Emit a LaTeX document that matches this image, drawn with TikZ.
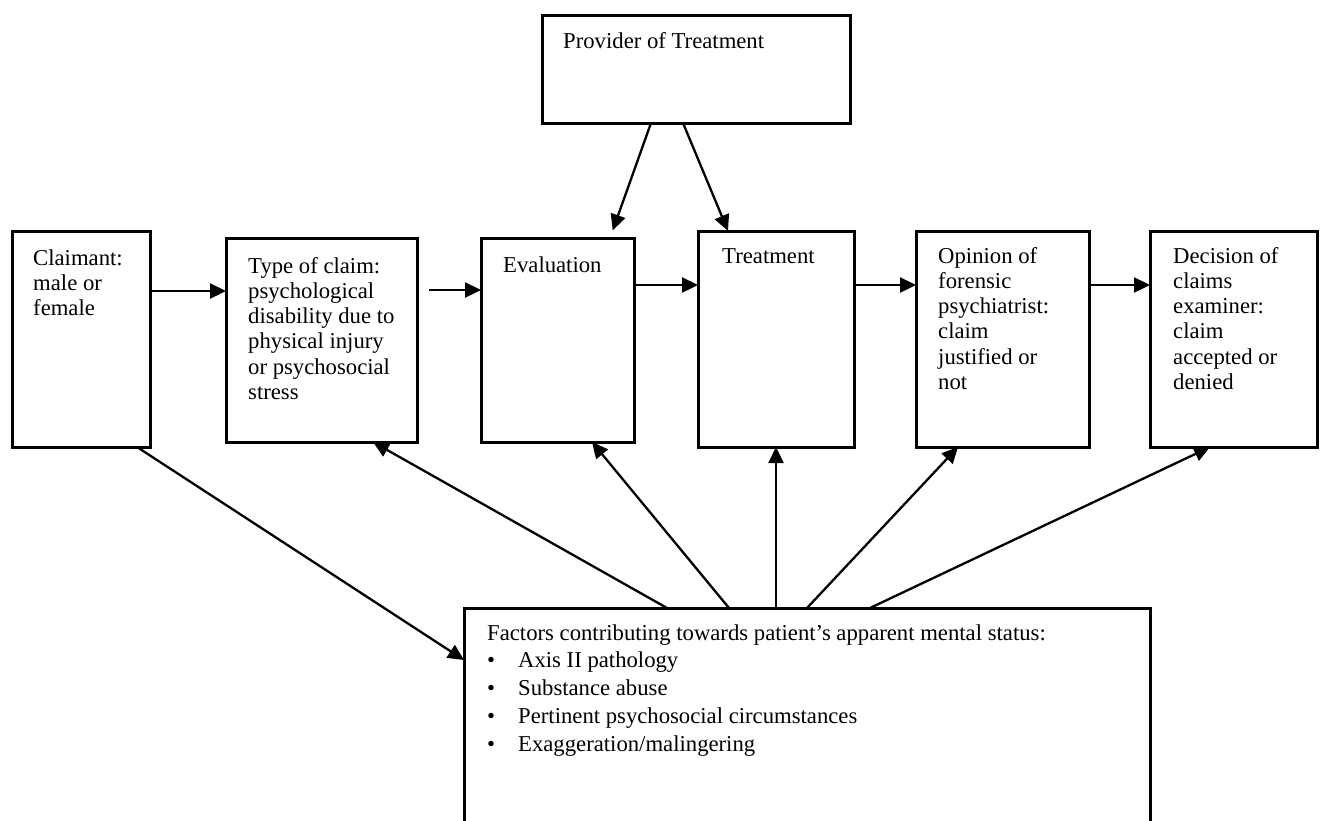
\documentclass[tikz,border=0pt]{standalone}
\usepackage{fontspec}
\setmainfont{Liberation Serif}
\usetikzlibrary{arrows.meta}
\newcommand{\mlines}[1]{\begin{tabular}[t]{@{}l@{}}#1\end{tabular}}
\newcommand{\bitem}[1]{\makebox[31pt][l]{\textbullet}#1}
\begin{document}
\begin{tikzpicture}[x=1pt,y=-1pt,
  box/.style={draw, line width=3pt, rectangle, inner sep=0pt, outer sep=0pt},
  txt/.style={anchor=base west, inner sep=0pt, font=\fontsize{22.7}{25.3}\selectfont},
  ftxt/.style={anchor=base west, inner sep=0pt, font=\fontsize{22.7}{27.8}\selectfont},
  arr/.style={line width=2.3pt, -{Triangle[length=16pt,width=15pt]}}]
\useasboundingbox (0,0) rectangle (1321,820);
\clip (0,0) rectangle (1321,820);
% boxes
\node[box, minimum width=308pt, minimum height=108pt] (prov) at (696,69) {};
\node[box, minimum width=138pt, minimum height=216pt] (claim) at (81,339) {};
\node[box, minimum width=191pt, minimum height=204pt] (type) at (321.5,340) {};
\node[box, minimum width=153pt, minimum height=204pt] (eval) at (557.5,340) {};
\node[box, minimum width=156pt, minimum height=216pt] (treat) at (776,339) {};
\node[box, minimum width=173pt, minimum height=216pt] (opin) at (1002.5,339) {};
\node[box, minimum width=167pt, minimum height=216pt] (dec) at (1233.5,339) {};
\node[box, minimum width=686pt, minimum height=232pt] (fact) at (807,724) {};
% texts
\node[txt] (tprov) at (563,48) {Provider of Treatment};
\node[txt] (tclaim) at (33,265) {\mlines{Claimant:\\male or\\female}};
\node[txt] (ttype) at (248,273) {\mlines{Type of claim:\\psychological\\disability due to\\physical injury\\or psychosocial\\stress}};
\node[txt] (teval) at (503,272) {Evaluation};
\node[txt] (ttreat) at (722,263) {Treatment};
\node[txt] (topin) at (938,263) {\mlines{Opinion of\\forensic\\psychiatrist:\\claim\\justified or\\not}};
\node[txt] (tdec) at (1173,263) {\mlines{Decision of\\claims\\examiner:\\claim\\accepted or\\denied}};
\node[ftxt] (tfact) at (487,640) {\mlines{Factors contributing towards patient’s apparent mental status:\\
\bitem{Axis II pathology}\\
\bitem{Substance abuse}\\
\bitem{Pertinent psychosocial circumstances}\\
\bitem{Exaggeration/malingering}}};
% connectors
\draw[arr] (claim.east |- 0,291) -- (type.west |- 0,291);
\draw[arr, shorten <=12pt] (type.east |- 0,290) -- (eval.west |- 0,290);
\draw[arr] (eval.east |- 0,285) -- (treat.west |- 0,285);
\draw[arr] (treat.east |- 0,285) -- (opin.west |- 0,285);
\draw[arr] (opin.east |- 0,285) -- (dec.west |- 0,285);
\draw[arr, shorten >=8pt] (651,0 |- prov.south) -- (610,0 |- eval.north);
\draw[arr] (683,0 |- prov.south) -- (728,0 |- treat.north);
\draw[arr] (137,0 |- claim.south) -- (fact.west |- 0,660);
\draw[arr] (667,0 |- fact.north) -- (373,0 |- type.south);
\draw[arr] (729,0 |- fact.north) -- (592,0 |- eval.south);
\draw[arr] (776,0 |- fact.north) -- (treat.south);
\draw[arr] (807,0 |- fact.north) -- (958,0 |- opin.south);
\draw[arr] (870,0 |- fact.north) -- (1210,0 |- dec.south);
\end{tikzpicture}
\end{document}
